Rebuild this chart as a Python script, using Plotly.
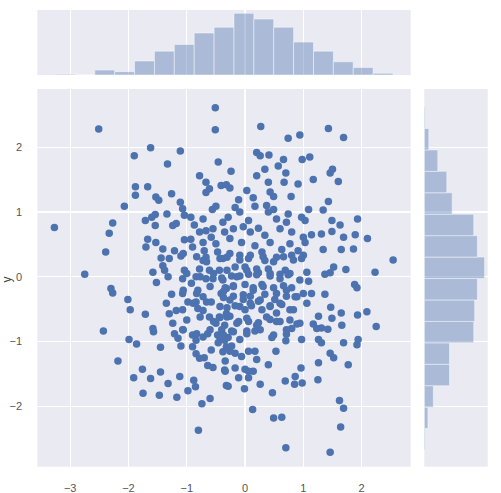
import numpy as np
import plotly.graph_objects as go

# scatter points
x_vals = [
    -0.51, -0.51, -2.51, -1.62, -1.11, -1.90, -1.33, -0.46, -0.78, -0.67, -0.41, -0.32, -0.67, -0.61,
    -1.88, -1.88, -1.67, -1.26, -1.53, -1.48, -2.07, -1.11, -1.07, -0.56, -0.50, -3.27, -2.27, -2.33,
    -2.39, -2.75, -1.71, -1.54, -1.60, -1.34, -1.54, -1.24, -1.18, -1.04, -0.93, -0.87, -0.72, -0.78,
    -0.67, -0.55, -0.58, -0.38, -0.35, -1.67, -1.53, -1.70, -1.41, -1.44, -1.30, -1.21, -1.10, -1.04,
    -0.93, -0.90, -0.72, -0.70, -0.67, -0.72, -0.50, -0.47, -0.38, -1.41, -1.38, -1.58, -1.04, -0.78,
    -0.61, -0.44,
    0.27, 0.74, 0.94, 1.43, 1.69, 0.20, 0.26, 0.41, 0.66, 0.98, 1.11, -0.24, 0.20, 0.34, 0.57, 0.70,
    0.67, 0.40, 0.91, 1.17, 1.46, 1.50, 1.60, -0.26, 0.03, 0.43, 0.49, 0.79, 0.14, -0.11, -0.17, 0.17,
    0.37, 0.49, 1.43, 1.09, 1.34, -0.09, -0.29, 0.06, 0.23, 0.40, 0.54, 0.74, 0.71, 0.97, 1.03, 1.49,
    1.63, 1.93, -0.20, -0.03, 0.09, 0.34, 0.60, 0.80, 1.00, 1.14, 1.31, 1.49, 1.69, 1.89, 2.10, -0.26,
    -0.06, 0.17, 0.43, 0.63, 0.77, 0.91, 1.03, 1.34, 1.65, 1.86, 2.54, -0.31, -0.09, 0.06, 0.29, 0.34,
    0.54, 0.80, 0.97, -0.17, 0.00, 0.20, 0.40, 0.69, 1.06, 1.52, 1.73, 2.23,
    -1.52, -1.32, -1.07, -0.84, -0.67, -0.55, -0.38, -2.30, -2.27, -2.01, -1.97, -1.71, -1.35, -1.26,
    -1.07, -0.98, -0.84, -0.72, -0.58, -0.41, -0.32, -0.81, -0.92, -1.30, -1.18, -1.07, -1.24, -0.81,
    -0.72, -0.61, -0.50, -0.44, -0.32, -0.35, -2.43, -1.58, -1.57, -1.21, -1.07, -1.15, -0.90, -0.84,
    -0.72, -0.64, -0.47, -0.35, -1.99, -1.86, -1.45, -1.10, -0.90, -0.84, -0.78, -0.70, -0.58, -0.38,
    -0.32, -2.18, -0.64, -0.55, -0.35, -1.76, -1.45, -1.91, -1.62, -1.32, -1.12, -0.88, -0.85, -0.98,
    -0.32, -1.75, -1.47, -1.17, -0.60, -0.74, -0.80,
    1.09, 1.37, 1.46, 1.88, 1.92, 1.37, 1.00, 1.14, 0.86, 1.47, 1.65, 1.93, 2.09, 2.25, 1.26, 1.49,
    1.17, 1.23, 1.31, 1.42, 1.66, 0.89, 0.80, 0.71, 0.70, 0.97, 1.26, 1.31, 1.69, 1.92, 1.94, 1.46,
    1.52, 1.77, 1.26, 0.96, 0.86, 0.85, 0.98, 0.69, 1.25, 0.53, 0.40, 0.47, 0.26, 0.14, 0.06, -0.01,
    -0.11, -0.29, -0.34, -0.17, 0.00, 0.06, 0.17, 0.20, 0.06, -0.06, -0.17, -0.26, -0.34, -0.46,
    -0.29, -0.23, 0.13, 0.49, 0.63, 0.70, 1.46, 1.62, 1.69, 1.64,
    -0.40, -0.23, -0.09, 0.06, 0.23, 0.43, 0.60, 0.74, -0.34, -0.20, 0.00, 0.14, 0.29, 0.49, 0.66,
    0.80, -0.37, -0.20, -0.03, 0.09, 0.23, 0.34, 0.51, 0.63, 0.71, -0.31, -0.17, 0.00, 0.11, 0.29,
    0.43, 0.54, 0.77, -0.43, -0.26, -0.11, 0.06, 0.23, 0.43, 0.60, -0.40, -0.23, -0.09, 0.03, 0.17,
    0.46, -0.43,
    -1.06, -0.83, -0.66, -0.43, -0.26, -0.09, 0.09, 0.31, 0.49, 0.66, 0.83, 1.00,
    -1.00, -0.77, -0.54, -0.31, -0.14, 0.03, 0.20, 0.43, 0.60, 0.77, 0.94,
    -1.06, -0.83, -0.60, -0.37, -0.20, -0.03, 0.14, 0.31, 0.54, 0.71, 0.89,
    -0.89, -0.66, -0.43, -0.26, -0.09, 0.09, 0.26, 0.43, 0.60, 0.83, 1.06,
    -1.00, -0.77, -0.54, -0.31, -0.14, 0.03, 0.20, 0.37, 0.54, 0.77, 0.94,
    -1.06, -0.83, -0.60, -0.37, -0.20, 0.03, 0.26, 0.49, 0.71,
]
y_vals = [
    2.61, 2.27, 2.28, 1.99, 1.94, 1.87, 1.74, 1.77, 1.56, 1.46, 1.41, 1.42, 1.30, 1.36,
    1.39, 1.26, 1.39, 1.28, 1.23, 1.18, 1.09, 1.15, 1.05, 1.04, 1.09, 0.76, 0.83, 0.67,
    0.38, 0.04, 0.87, 0.96, 0.92, 0.97, 0.79, 0.79, 0.82, 0.95, 0.92, 0.80, 0.89, 0.69,
    0.71, 0.74, 0.61, 0.84, 0.69, 0.58, 0.53, 0.46, 0.43, 0.29, 0.28, 0.40, 0.32, 0.57,
    0.58, 0.46, 0.53, 0.40, 0.30, 0.25, 0.51, 0.38, 0.28, 0.17, 0.10, 0.07, 0.10, 0.12,
    0.10, 0.10,
    2.32, 2.14, 2.19, 2.29, 2.15, 1.92, 1.87, 1.88, 1.81, 1.81, 1.85, 1.63, 1.56, 1.66, 1.71, 1.60,
    1.46, 1.46, 1.43, 1.50, 1.60, 1.66, 1.47, 1.37, 1.33, 1.31, 1.24, 1.24, 1.22, 1.19, 1.07, 1.09,
    1.10, 1.04, 1.16, 1.04, 1.03, 1.00, 0.92, 0.87, 0.75, 1.00, 0.89, 0.97, 0.84, 0.92, 0.87, 0.87,
    0.80, 0.89, 0.74, 0.77, 0.69, 0.64, 0.74, 0.69, 0.61, 0.65, 0.66, 0.70, 0.61, 0.65, 0.59, 0.59,
    0.53, 0.48, 0.53, 0.42, 0.51, 0.40, 0.53, 0.42, 0.42, 0.43, 0.26, 0.30, 0.33, 0.28, 0.38, 0.25,
    0.30, 0.33, 0.28, 0.15, 0.15, 0.12, 0.12, 0.10, 0.07, 0.15, 0.11, 0.07,
    -0.09, 0.00, -0.03, 0.00, -0.03, -0.03, -0.05, -0.18, -0.25, -0.35, -0.51, -0.58, -0.41, -0.27,
    -0.26, -0.39, -0.39, -0.31, -0.39, -0.26, -0.18, -0.21, -0.10, -0.57, -0.52, -0.51, -0.72, -0.49,
    -0.52, -0.62, -0.72, -0.62, -0.57, -0.75, -0.84, -0.80, -0.85, -0.88, -0.82, -0.95, -0.90, -0.98,
    -0.93, -0.88, -0.90, -0.98, -0.97, -1.04, -1.09, -1.07, -1.08, -1.19, -1.26, -1.25, -1.13, -1.16,
    -1.08, -1.30, -1.37, -1.40, -1.44, -1.43, -1.47, -1.56, -1.57, -1.65, -1.54, -1.60, -1.70, -1.76,
    -1.68, -1.80, -1.83, -1.86, -1.88, -1.96, -2.37,
    -0.07, 0.04, 0.06, -0.12, -0.17, -0.27, -0.26, -0.26, -0.31, -0.47, -0.56, -0.59, -0.54, -0.77, -0.61, -0.64,
    -0.73, -0.80, -0.79, -0.81, -0.75, -0.73, -0.80, -0.89, -0.99, -0.97, -0.97, -1.02, -1.02, -1.05, -0.97, -1.18,
    -1.25, -1.36, -1.33, -1.41, -1.54, -1.66, -1.64, -1.61, -1.59, -1.15, -1.36, -1.79, -1.66, -1.46, -1.56, -1.73,
    -1.56, -1.69, -1.46, -1.41, -1.43, -1.46, -1.15, -1.28, -1.15, -1.23, -1.18, -1.15, -1.30, -1.02,
    -0.94, -1.07, -2.05, -2.18, -2.17, -2.64, -2.71, -1.91, -2.03, -2.32,
    -0.02, 0.01, 0.01, 0.04, 0.06, 0.01, 0.04, 0.03, -0.17, -0.14, -0.12, -0.17, -0.12, -0.17, -0.14,
    -0.17, -0.32, -0.30, -0.35, -0.30, -0.38, -0.27, -0.35, -0.43, -0.30, -0.48, -0.45, -0.51, -0.45, -0.51,
    -0.45, -0.56, -0.51, -0.63, -0.61, -0.69, -0.69, -0.71, -0.66, -0.69, -0.82, -0.84, -0.97, -0.84, -0.84,
    -0.94, -0.94,
    0.36, 0.31, 0.23, 0.28, 0.36, 0.26, 0.33, 0.31, 0.23, 0.31, 0.26, 0.33,
    0.05, 0.00, 0.05, 0.10, 0.00, 0.10, 0.03, 0.05, -0.03, 0.05, -0.05,
    -0.21, -0.26, -0.15, -0.23, -0.15, -0.28, -0.21, -0.15, -0.26, -0.21, -0.31,
    -0.41, -0.39, -0.46, -0.36, -0.46, -0.41, -0.36, -0.46, -0.41, -0.51, -0.41,
    -0.67, -0.62, -0.69, -0.62, -0.72, -0.64, -0.75, -0.62, -0.69, -0.67, -0.72,
    -0.82, -0.88, -0.82, -0.90, -0.85, -0.88, -0.82, -0.90, -0.82,
]

# marginal histograms (counts per bin)
x_bin_start = -3.259
x_bin_width = 0.341
x_counts = [1, 0, 6, 4, 17, 29, 37, 51, 58, 75, 68, 58, 40, 29, 16, 9, 2]

y_bin_start = -2.676
y_bin_width = 0.331
y_counts = [1, 4, 10, 28, 28, 55, 56, 59, 67, 59, 55, 31, 25, 15, 5, 1]

x_ticks = [-3, -2, -1, 0, 1, 2]
y_ticks = [-2, -1, 0, 1, 2]

blue = "#4C72B0"
hist_fill = "rgba(76,114,176,0.4)"
hist_edge = "rgba(255,255,255,0.45)"
bg = "#EAEAF2"

x_centers = x_bin_start + x_bin_width * (np.arange(len(x_counts)) + 0.5)
y_centers = y_bin_start + y_bin_width * (np.arange(len(y_counts)) + 0.5)

fig = go.Figure()
fig.add_trace(go.Scatter(
    x=x_vals, y=y_vals, mode="markers",
    marker=dict(color=blue, size=7.5, line=dict(width=0)),
    xaxis="x", yaxis="y", showlegend=False,
))
fig.add_trace(go.Bar(
    x=x_centers, y=x_counts, width=x_bin_width,
    marker=dict(color=hist_fill, line=dict(color=hist_edge, width=1)),
    xaxis="x2", yaxis="y2", showlegend=False,
))
fig.add_trace(go.Bar(
    y=y_centers, x=y_counts, width=y_bin_width, orientation="h",
    marker=dict(color=hist_fill, line=dict(color=hist_edge, width=1)),
    xaxis="x3", yaxis="y3", showlegend=False,
))

x_range = [-3.563, 2.842]
y_range = [-2.934, 2.899]
main_x = [0.0745, 0.8198]
main_y = [0.0533, 0.8195]
tickfont = dict(family="Liberation Sans, Arial, sans-serif", size=11, color="#555555")

fig.update_layout(
    width=501, height=493,
    margin=dict(l=0, r=0, t=0, b=0),
    paper_bgcolor="white", plot_bgcolor=bg,
    barmode="overlay", bargap=0,
    hovermode=False,
    xaxis=dict(domain=main_x, range=x_range, anchor="y", tickvals=x_ticks,
               showgrid=True, gridcolor="white", gridwidth=1.2, zeroline=False,
               showline=False, ticks="outside", ticklen=11, tickcolor="rgba(0,0,0,0)",
               tickfont=tickfont),
    yaxis=dict(domain=main_y, range=y_range, anchor="x", tickvals=y_ticks,
               showgrid=True, gridcolor="white", gridwidth=1.2, zeroline=False,
               showline=False, ticks="outside", ticklen=12, tickcolor="rgba(0,0,0,0)",
               tickfont=tickfont),
    xaxis2=dict(domain=main_x, range=x_range, anchor="y2", tickvals=x_ticks,
                showticklabels=False, showgrid=True, gridcolor="white", gridwidth=1.2,
                zeroline=False),
    yaxis2=dict(domain=[0.8479, 0.9797], range=[0, 79], anchor="x2",
                showticklabels=False, showgrid=False, zeroline=False),
    xaxis3=dict(domain=[0.8469, 0.9735], range=[0, 70.5], anchor="y3",
                showticklabels=False, showgrid=False, zeroline=False),
    yaxis3=dict(domain=main_y, range=y_range, anchor="x3", tickvals=y_ticks,
                showticklabels=False, showgrid=True, gridcolor="white", gridwidth=1.2,
                zeroline=False),
    annotations=[dict(text="y", x=0.015, y=0.432, xref="paper", yref="paper",
                      showarrow=False, textangle=-90, xanchor="center", yanchor="middle",
                      font=dict(family="Liberation Sans, Arial, sans-serif", size=12,
                                color="#444444"))],
)

# drop the browser's default page margin so the figure sits at the top-left corner
fig.write_html("out.html", config={"displayModeBar": False, "staticPlot": True},
               post_script="document.body.style.margin = '0';")
